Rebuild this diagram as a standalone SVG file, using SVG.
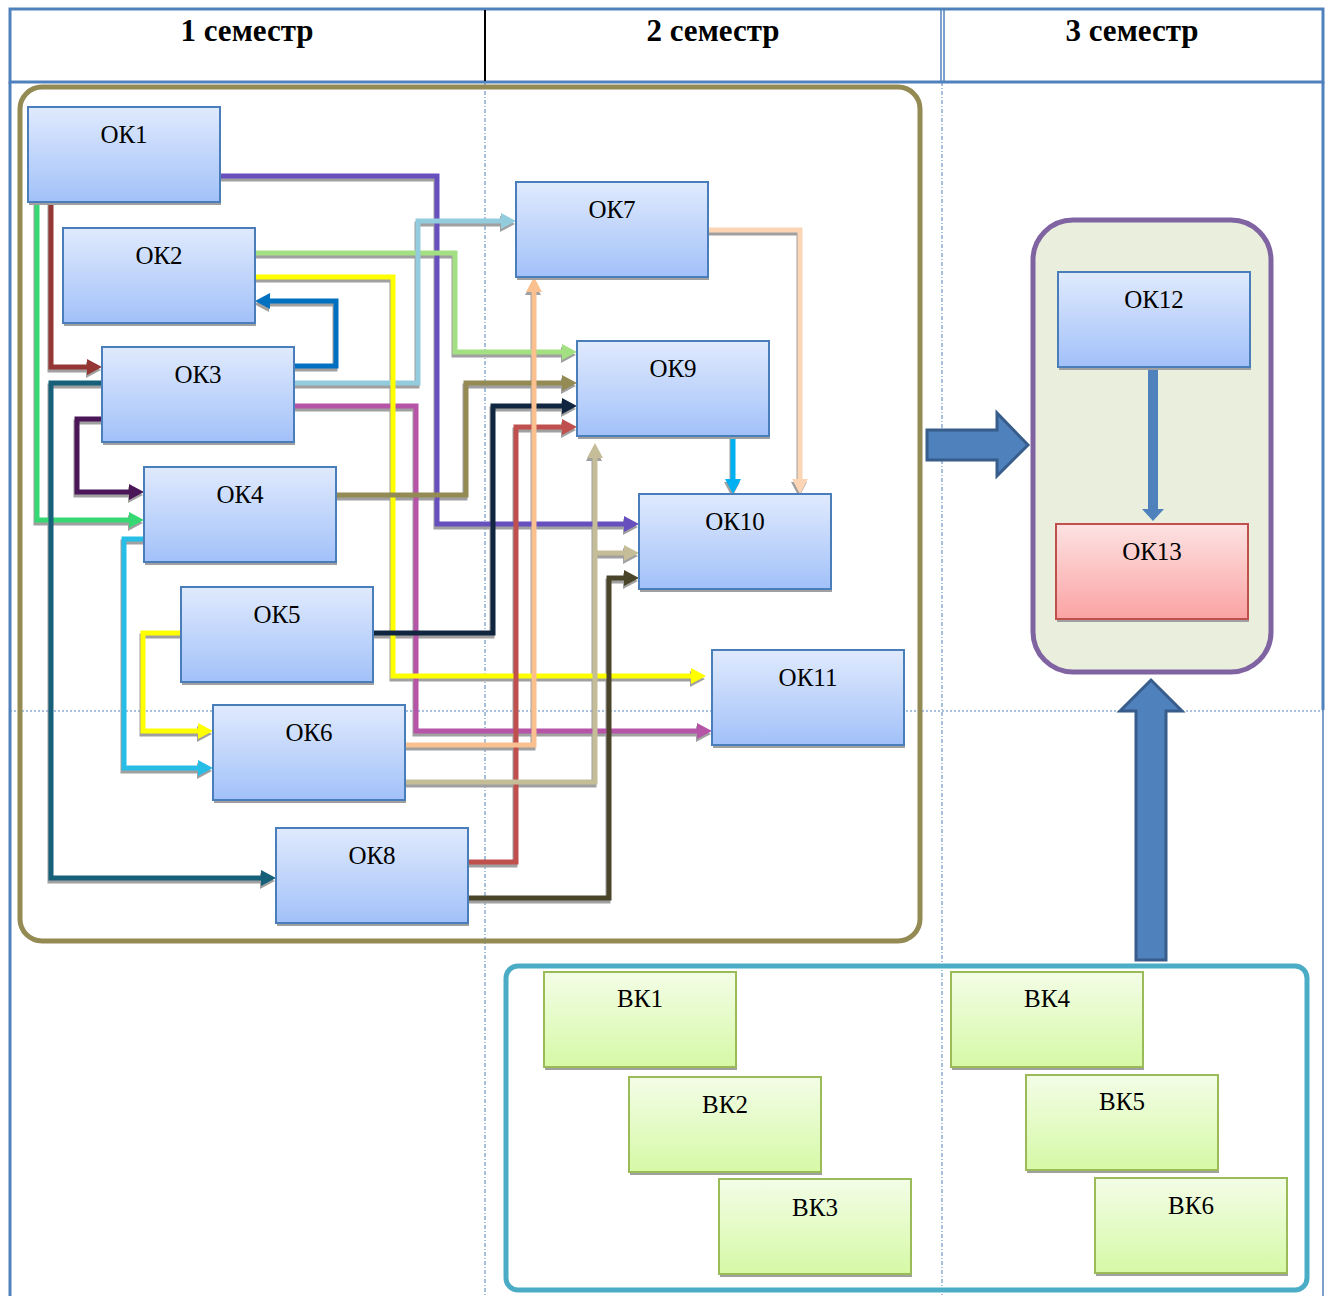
<svg xmlns="http://www.w3.org/2000/svg" width="1331" height="1296" viewBox="0 0 1331 1296">
<style>
.hdr{font-family:"Liberation Serif","Times New Roman",serif;font-weight:bold;font-size:31px;text-anchor:middle;fill:#000}
.lbl{font-family:"Liberation Serif","Times New Roman",serif;font-size:25px;text-anchor:middle;fill:#000}
.ok{fill:url(#gBlue);stroke:#4a7ebb;stroke-width:2}
.okr{fill:url(#gRed);stroke:#c0504d;stroke-width:2}
.vk{fill:url(#gGreen);stroke:#9bbb59;stroke-width:2}
.sh{fill:#a0a0a0}
.c{fill:none;stroke-width:5;stroke-linejoin:miter}
.cs{fill:none;stroke:#a0a0a0;stroke-width:5}
.grid{stroke:#4f81bd;stroke-width:3;fill:none}
.dot{stroke:#4f81bd;stroke-width:1;stroke-dasharray:4 2 1 2;fill:none}
.blk{fill:#4f81bd;stroke:#385d8a;stroke-width:3}
</style>
<defs>
<linearGradient id="gBlue" x1="0" y1="0" x2="0" y2="1"><stop offset="0" stop-color="#e0eafd"/><stop offset="1" stop-color="#a2c1f9"/></linearGradient>
<linearGradient id="gRed" x1="0" y1="0" x2="0" y2="1"><stop offset="0" stop-color="#fde2e2"/><stop offset="1" stop-color="#fba3a3"/></linearGradient>
<linearGradient id="gGreen" x1="0" y1="0" x2="0" y2="1"><stop offset="0" stop-color="#f3fde7"/><stop offset="1" stop-color="#d6f9a6"/></linearGradient>
<marker id="aSh" markerUnits="userSpaceOnUse" markerWidth="15" markerHeight="16" viewBox="0 0 15 16" refX="1" refY="8" orient="auto"><path d="M0,0 L15,8 L0,16 z" fill="#a0a0a0"/></marker>
<marker id="aPur" markerUnits="userSpaceOnUse" markerWidth="15" markerHeight="16" viewBox="0 0 15 16" refX="1" refY="8" orient="auto"><path d="M0,0 L15,8 L0,16 z" fill="#6750bd"/></marker>
<marker id="aGrn" markerUnits="userSpaceOnUse" markerWidth="15" markerHeight="16" viewBox="0 0 15 16" refX="1" refY="8" orient="auto"><path d="M0,0 L15,8 L0,16 z" fill="#35d873"/></marker>
<marker id="aDred" markerUnits="userSpaceOnUse" markerWidth="15" markerHeight="16" viewBox="0 0 15 16" refX="1" refY="8" orient="auto"><path d="M0,0 L15,8 L0,16 z" fill="#953735"/></marker>
<marker id="aLgrn" markerUnits="userSpaceOnUse" markerWidth="15" markerHeight="16" viewBox="0 0 15 16" refX="1" refY="8" orient="auto"><path d="M0,0 L15,8 L0,16 z" fill="#a3e081"/></marker>
<marker id="aYel" markerUnits="userSpaceOnUse" markerWidth="15" markerHeight="16" viewBox="0 0 15 16" refX="1" refY="8" orient="auto"><path d="M0,0 L15,8 L0,16 z" fill="#ffff00"/></marker>
<marker id="aBlu" markerUnits="userSpaceOnUse" markerWidth="15" markerHeight="16" viewBox="0 0 15 16" refX="1" refY="8" orient="auto"><path d="M0,0 L15,8 L0,16 z" fill="#0070c0"/></marker>
<marker id="aLblu" markerUnits="userSpaceOnUse" markerWidth="15" markerHeight="16" viewBox="0 0 15 16" refX="1" refY="8" orient="auto"><path d="M0,0 L15,8 L0,16 z" fill="#93cddd"/></marker>
<marker id="aMag" markerUnits="userSpaceOnUse" markerWidth="15" markerHeight="16" viewBox="0 0 15 16" refX="1" refY="8" orient="auto"><path d="M0,0 L15,8 L0,16 z" fill="#b654a7"/></marker>
<marker id="aTeal" markerUnits="userSpaceOnUse" markerWidth="15" markerHeight="16" viewBox="0 0 15 16" refX="1" refY="8" orient="auto"><path d="M0,0 L15,8 L0,16 z" fill="#17607a"/></marker>
<marker id="aDpur" markerUnits="userSpaceOnUse" markerWidth="15" markerHeight="16" viewBox="0 0 15 16" refX="1" refY="8" orient="auto"><path d="M0,0 L15,8 L0,16 z" fill="#4b1657"/></marker>
<marker id="aOl" markerUnits="userSpaceOnUse" markerWidth="15" markerHeight="16" viewBox="0 0 15 16" refX="1" refY="8" orient="auto"><path d="M0,0 L15,8 L0,16 z" fill="#948a54"/></marker>
<marker id="aCy" markerUnits="userSpaceOnUse" markerWidth="15" markerHeight="16" viewBox="0 0 15 16" refX="1" refY="8" orient="auto"><path d="M0,0 L15,8 L0,16 z" fill="#26bde7"/></marker>
<marker id="aNav" markerUnits="userSpaceOnUse" markerWidth="15" markerHeight="16" viewBox="0 0 15 16" refX="1" refY="8" orient="auto"><path d="M0,0 L15,8 L0,16 z" fill="#10253f"/></marker>
<marker id="aPch" markerUnits="userSpaceOnUse" markerWidth="15" markerHeight="16" viewBox="0 0 15 16" refX="1" refY="8" orient="auto"><path d="M0,0 L15,8 L0,16 z" fill="#fac08f"/></marker>
<marker id="aTan" markerUnits="userSpaceOnUse" markerWidth="15" markerHeight="16" viewBox="0 0 15 16" refX="1" refY="8" orient="auto"><path d="M0,0 L15,8 L0,16 z" fill="#c4bd97"/></marker>
<marker id="aRed" markerUnits="userSpaceOnUse" markerWidth="15" markerHeight="16" viewBox="0 0 15 16" refX="1" refY="8" orient="auto"><path d="M0,0 L15,8 L0,16 z" fill="#c0504d"/></marker>
<marker id="aDol" markerUnits="userSpaceOnUse" markerWidth="15" markerHeight="16" viewBox="0 0 15 16" refX="1" refY="8" orient="auto"><path d="M0,0 L15,8 L0,16 z" fill="#4a452a"/></marker>
<marker id="aLpch" markerUnits="userSpaceOnUse" markerWidth="15" markerHeight="16" viewBox="0 0 15 16" refX="1" refY="8" orient="auto"><path d="M0,0 L15,8 L0,16 z" fill="#fcd5b5"/></marker>
<marker id="aBcy" markerUnits="userSpaceOnUse" markerWidth="15" markerHeight="16" viewBox="0 0 15 16" refX="1" refY="8" orient="auto"><path d="M0,0 L15,8 L0,16 z" fill="#00b0f0"/></marker>
<marker id="aSt" markerUnits="userSpaceOnUse" markerWidth="12" markerHeight="22" viewBox="0 0 12 22" refX="1" refY="11" orient="auto"><path d="M0,0 L12,11 L0,22 z" fill="#4f81bd"/></marker>
</defs>

<rect width="1331" height="1296" fill="#fff"/>

<!-- grid / table -->
<g id="grid">
<line class="dot" x1="485" y1="82" x2="485" y2="1296"/>
<line class="dot" x1="942" y1="82" x2="942" y2="1296"/>
<line class="dot" x1="10" y1="711" x2="1323" y2="711" style="stroke-dasharray:2 2"/>
<rect class="grid" x="10" y="9" width="1313" height="73"/>
<line x1="485" y1="10" x2="485" y2="81" stroke="#000" stroke-width="2"/>
<line x1="941" y1="10" x2="941" y2="81" stroke="#4f81bd" stroke-width="1.5"/>
<line x1="944" y1="10" x2="944" y2="81" stroke="#4f81bd" stroke-width="1.5"/>
<line class="grid" x1="10" y1="82" x2="10" y2="1296"/>
<line class="grid" x1="1323" y1="82" x2="1323" y2="710"/>
<line x1="1323" y1="710" x2="1323" y2="1296" stroke="#4f81bd" stroke-width="1.5"/>
<text class="hdr" x="247" y="41">1 семестр</text>
<text class="hdr" x="713" y="41">2 семестр</text>
<text class="hdr" x="1132" y="41">3 семестр</text>
</g>

<!-- containers -->
<g id="container1"><rect x="20" y="87" width="900" height="854" rx="22" fill="none" stroke="#948a54" stroke-width="5"/></g>
<g id="container2"><rect x="1033" y="220" width="238" height="452" rx="40" fill="#eaeedc" stroke="#8064a2" stroke-width="5"/></g>
<g id="container3"><rect x="506" y="966" width="801" height="324" rx="12" fill="none" stroke="#4bacc6" stroke-width="5"/></g>

<!-- connectors -->
<g id="connectors">
<g transform="translate(-1,3)">
<path class="cs" d="M220,176 H437 V524 H625" marker-end="url(#aSh)"/>
<path class="cs" d="M37,202 V520 H130" marker-end="url(#aSh)"/>
<path class="cs" d="M51,202 V367 H88" marker-end="url(#aSh)"/>
<path class="cs" d="M255,253 H455 V352 H563" marker-end="url(#aSh)"/>
<path class="cs" d="M255,277 H393 V676 H692" marker-end="url(#aSh)"/>
<path class="cs" d="M294,366 H336 V301 H269" marker-end="url(#aSh)"/>
<path class="cs" d="M294,383 H418 V221 H502" marker-end="url(#aSh)"/>
<path class="cs" d="M294,406 H416 V731 H698" marker-end="url(#aSh)"/>
<path class="cs" d="M102,383 H51 V878 H262" marker-end="url(#aSh)"/>
<path class="cs" d="M102,419 H77 V492 H130" marker-end="url(#aSh)"/>
<path class="cs" d="M336,495 H466 V383 H563" marker-end="url(#aSh)"/>
<path class="cs" d="M144,539 H124 V768 H199" marker-end="url(#aSh)"/>
<path class="cs" d="M373,633 H493 V406 H563" marker-end="url(#aSh)"/>
<path class="cs" d="M181,633 H143 V731 H199" marker-end="url(#aSh)"/>
<path class="cs" d="M405,745 H534 V291" marker-end="url(#aSh)"/>
<path class="cs" d="M405,782 H595 V457" marker-end="url(#aSh)"/>
<path class="cs" d="M595,553 H625" marker-end="url(#aSh)"/>
<path class="cs" d="M468,862 H516 V427 H563" marker-end="url(#aSh)"/>
<path class="cs" d="M468,898 H609 V578 H625" marker-end="url(#aSh)"/>
<path class="cs" d="M708,230 H800 V480" marker-end="url(#aSh)"/>
<path class="cs" d="M733,435 V480" marker-end="url(#aSh)"/>
</g>
<path class="c" stroke="#6750bd" d="M220,176 H437 V524 H625" marker-end="url(#aPur)"/>
<path class="c" stroke="#35d873" d="M37,202 V520 H130" marker-end="url(#aGrn)"/>
<path class="c" stroke="#953735" d="M51,202 V367 H88" marker-end="url(#aDred)"/>
<path class="c" stroke="#a3e081" d="M255,253 H455 V352 H563" marker-end="url(#aLgrn)"/>
<path class="c" stroke="#93cddd" d="M294,383 H418 V221 H502" marker-end="url(#aLblu)"/>
<path class="c" stroke="#b654a7" d="M294,406 H416 V731 H698" marker-end="url(#aMag)"/>
<path class="c" stroke="#ffff00" d="M255,277 H393 V676 H692" marker-end="url(#aYel)"/>
<path class="c" stroke="#0070c0" d="M294,366 H336 V301 H269" marker-end="url(#aBlu)"/>
<path class="c" stroke="#17607a" d="M102,383 H51 V878 H262" marker-end="url(#aTeal)"/>
<path class="c" stroke="#4b1657" d="M102,419 H77 V492 H130" marker-end="url(#aDpur)"/>
<path class="c" stroke="#948a54" d="M336,495 H466 V383 H563" marker-end="url(#aOl)"/>
<path class="c" stroke="#26bde7" d="M144,539 H124 V768 H199" marker-end="url(#aCy)"/>
<path class="c" stroke="#10253f" d="M373,633 H493 V406 H563" marker-end="url(#aNav)"/>
<path class="c" stroke="#ffff00" d="M181,633 H143 V731 H199" marker-end="url(#aYel)"/>
<path class="c" stroke="#c0504d" d="M468,862 H516 V427 H563" marker-end="url(#aRed)"/>
<path class="c" stroke="#fac08f" d="M405,745 H534 V291" marker-end="url(#aPch)"/>
<path class="c" stroke="#c4bd97" d="M405,782 H595 V457" marker-end="url(#aTan)"/>
<path class="c" stroke="#c4bd97" d="M595,553 H625" marker-end="url(#aTan)"/>
<path class="c" stroke="#4a452a" d="M468,898 H609 V578 H625" marker-end="url(#aDol)"/>
<path class="c" stroke="#fcd5b5" d="M708,230 H800 V480" marker-end="url(#aLpch)"/>
<path class="c" stroke="#00b0f0" d="M733,435 V480" marker-end="url(#aBcy)"/>
<path fill="none" stroke="#4f81bd" stroke-width="10" d="M1153,369 V510" marker-end="url(#aSt)"/>
<path class="blk" d="M927,430 H997 V413 L1028,445 L997,476 V460 H927 Z"/>
<path class="blk" d="M1136,960 V711 H1120 L1151,680 L1182,711 H1166 V960 Z"/>
</g>

<!-- nodes -->
<g id="OK1"><rect class="sh" x="29" y="110" width="192" height="95"/><rect class="ok" x="28" y="107" width="192" height="95"/><text class="lbl" x="124" y="143">ОК1</text></g>
<g id="OK2"><rect class="sh" x="64" y="231" width="192" height="95"/><rect class="ok" x="63" y="228" width="192" height="95"/><text class="lbl" x="159" y="264">ОК2</text></g>
<g id="OK3"><rect class="sh" x="103" y="350" width="192" height="95"/><rect class="ok" x="102" y="347" width="192" height="95"/><text class="lbl" x="198" y="383">ОК3</text></g>
<g id="OK4"><rect class="sh" x="145" y="470" width="192" height="95"/><rect class="ok" x="144" y="467" width="192" height="95"/><text class="lbl" x="240" y="503">ОК4</text></g>
<g id="OK5"><rect class="sh" x="182" y="590" width="192" height="95"/><rect class="ok" x="181" y="587" width="192" height="95"/><text class="lbl" x="277" y="623">ОК5</text></g>
<g id="OK6"><rect class="sh" x="214" y="708" width="192" height="95"/><rect class="ok" x="213" y="705" width="192" height="95"/><text class="lbl" x="309" y="741">ОК6</text></g>
<g id="OK7"><rect class="sh" x="517" y="185" width="192" height="95"/><rect class="ok" x="516" y="182" width="192" height="95"/><text class="lbl" x="612" y="218">ОК7</text></g>
<g id="OK8"><rect class="sh" x="277" y="831" width="192" height="95"/><rect class="ok" x="276" y="828" width="192" height="95"/><text class="lbl" x="372" y="864">ОК8</text></g>
<g id="OK9"><rect class="sh" x="578" y="344" width="192" height="95"/><rect class="ok" x="577" y="341" width="192" height="95"/><text class="lbl" x="673" y="377">ОК9</text></g>
<g id="OK10"><rect class="sh" x="640" y="497" width="192" height="95"/><rect class="ok" x="639" y="494" width="192" height="95"/><text class="lbl" x="735" y="530">ОК10</text></g>
<g id="OK11"><rect class="sh" x="713" y="653" width="192" height="95"/><rect class="ok" x="712" y="650" width="192" height="95"/><text class="lbl" x="808" y="686">ОК11</text></g>
<g id="OK12"><rect class="sh" x="1059" y="275" width="192" height="95"/><rect class="ok" x="1058" y="272" width="192" height="95"/><text class="lbl" x="1154" y="308">ОК12</text></g>
<g id="OK13"><rect class="sh" x="1057" y="527" width="192" height="95"/><rect class="okr" x="1056" y="524" width="192" height="95"/><text class="lbl" x="1152" y="560">ОК13</text></g>
<g id="VK1"><rect class="sh" x="545" y="975" width="192" height="95"/><rect class="vk" x="544" y="972" width="192" height="95"/><text class="lbl" x="640" y="1007">ВК1</text></g>
<g id="VK2"><rect class="sh" x="630" y="1080" width="192" height="95"/><rect class="vk" x="629" y="1077" width="192" height="95"/><text class="lbl" x="725" y="1113">ВК2</text></g>
<g id="VK3"><rect class="sh" x="720" y="1182" width="192" height="95"/><rect class="vk" x="719" y="1179" width="192" height="95"/><text class="lbl" x="815" y="1216">ВК3</text></g>
<g id="VK4"><rect class="sh" x="952" y="975" width="192" height="95"/><rect class="vk" x="951" y="972" width="192" height="95"/><text class="lbl" x="1047" y="1007">ВК4</text></g>
<g id="VK5"><rect class="sh" x="1027" y="1078" width="192" height="95"/><rect class="vk" x="1026" y="1075" width="192" height="95"/><text class="lbl" x="1122" y="1110">ВК5</text></g>
<g id="VK6"><rect class="sh" x="1096" y="1181" width="192" height="95"/><rect class="vk" x="1095" y="1178" width="192" height="95"/><text class="lbl" x="1191" y="1214">ВК6</text></g>
</svg>
